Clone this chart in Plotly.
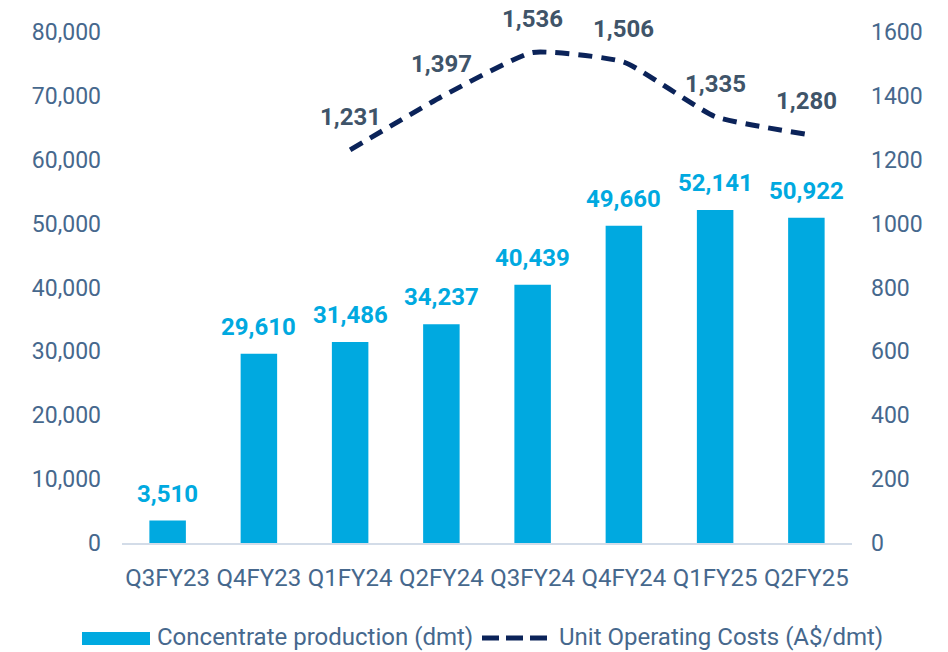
import plotly.graph_objects as go

categories = ["Q3FY23", "Q4FY23", "Q1FY24", "Q2FY24", "Q3FY24", "Q4FY24", "Q1FY25", "Q2FY25"]
production = [3510, 29610, 31486, 34237, 40439, 49660, 52141, 50922]
unit_costs = [None, None, 1231, 1397, 1536, 1506, 1335, 1280]

left_ticks = [0, 10000, 20000, 30000, 40000, 50000, 60000, 70000, 80000]
right_ticks = [0, 200, 400, 600, 800, 1000, 1200, 1400, 1600]

BAR_COLOR = "#00A9E0"
LINE_COLOR = "#0B2359"
LINE_LABEL_COLOR = "#3F5469"
TICK_COLOR = "#46688D"
AXIS_COLOR = "#D3DCE8"
FONT = "Roboto"

fig = go.Figure()
fig.add_trace(go.Bar(
    x=categories, y=production, marker=dict(color=BAR_COLOR, line=dict(width=0)),
    name="Concentrate production (dmt)", showlegend=False, yaxis="y",
))
fig.add_trace(go.Scatter(
    x=categories, y=unit_costs, mode="lines", yaxis="y2",
    line=dict(color=LINE_COLOR, width=5, dash="14px,9px", shape="spline", smoothing=0.45),
    name="Unit Operating Costs (A$/dmt)", showlegend=False, connectgaps=False,
))

annotations = []
for c, v in zip(categories, production):
    annotations.append(dict(
        x=c, y=v, xref="x", yref="y", text=f"<b>{v:,}</b>", showarrow=False,
        yanchor="middle", yshift=27, font=dict(family=FONT, size=24, color=BAR_COLOR),
    ))
for c, v in zip(categories, unit_costs):
    if v is None:
        continue
    annotations.append(dict(
        x=c, y=v, xref="x", yref="y2", text=f"<b>{v:,}</b>", showarrow=False,
        yanchor="middle", yshift=33, font=dict(family=FONT, size=24, color=LINE_LABEL_COLOR),
    ))

# custom legend (positions in page pixels converted to paper coords)
W, H, L, R, B, T = 948, 652, 122, 96, 109, 32
PW = W - L - R
PH = H - T - B
def px_x(px):
    return (px - L) / PW
def px_y(py):
    return (H - B - py) / PH

shapes = [
    dict(type="rect", xref="paper", yref="paper", x0=px_x(82), x1=px_x(150),
         y0=px_y(645), y1=px_y(632), fillcolor=BAR_COLOR, line=dict(width=0)),
    dict(type="line", xref="paper", yref="paper", x0=px_x(482), x1=px_x(548),
         y0=px_y(638), y1=px_y(638), line=dict(color=LINE_COLOR, width=5, dash="17px,7px")),
]
annotations.append(dict(x=px_x(155), y=px_y(637), xref="paper", yref="paper",
                        text="Concentrate production (dmt)", showarrow=False,
                        xanchor="left", yanchor="middle",
                        font=dict(family=FONT, size=24, color=TICK_COLOR)))
annotations.append(dict(x=px_x(557), y=px_y(637), xref="paper", yref="paper",
                        text="Unit Operating Costs (A$/dmt)", showarrow=False,
                        xanchor="left", yanchor="middle",
                        font=dict(family=FONT, size=24, color=TICK_COLOR)))

fig.update_layout(
    width=W, height=H,
    margin=dict(l=L, r=R, t=T, b=B),
    paper_bgcolor="white", plot_bgcolor="white",
    bargap=0.6,
    font=dict(family=FONT, size=23, color=TICK_COLOR),
    xaxis=dict(showline=True, linecolor=AXIS_COLOR, linewidth=2, showgrid=False,
               ticks="", tickfont=dict(family=FONT, size=24, color=TICK_COLOR),
               ticklabelstandoff=12),
    yaxis=dict(range=[0, 80000], tickvals=left_ticks,
               ticktext=[f"{t:,}" for t in left_ticks], showgrid=False,
               zeroline=False, showline=False, ticks="",
               tickfont=dict(family=FONT, size=23, color=TICK_COLOR),
               ticklabelstandoff=20),
    yaxis2=dict(range=[0, 1600], tickvals=right_ticks, overlaying="y", side="right",
                showgrid=False, zeroline=False, showline=False, ticks="",
                tickfont=dict(family=FONT, size=23, color=TICK_COLOR),
                ticklabelstandoff=18),
    shapes=shapes,
    annotations=annotations,
    showlegend=False,
)

fig.write_html(
    "out.html",
    config={"displayModeBar": False},
    post_script="document.body.style.margin='0';document.body.style.overflow='hidden';",
)
